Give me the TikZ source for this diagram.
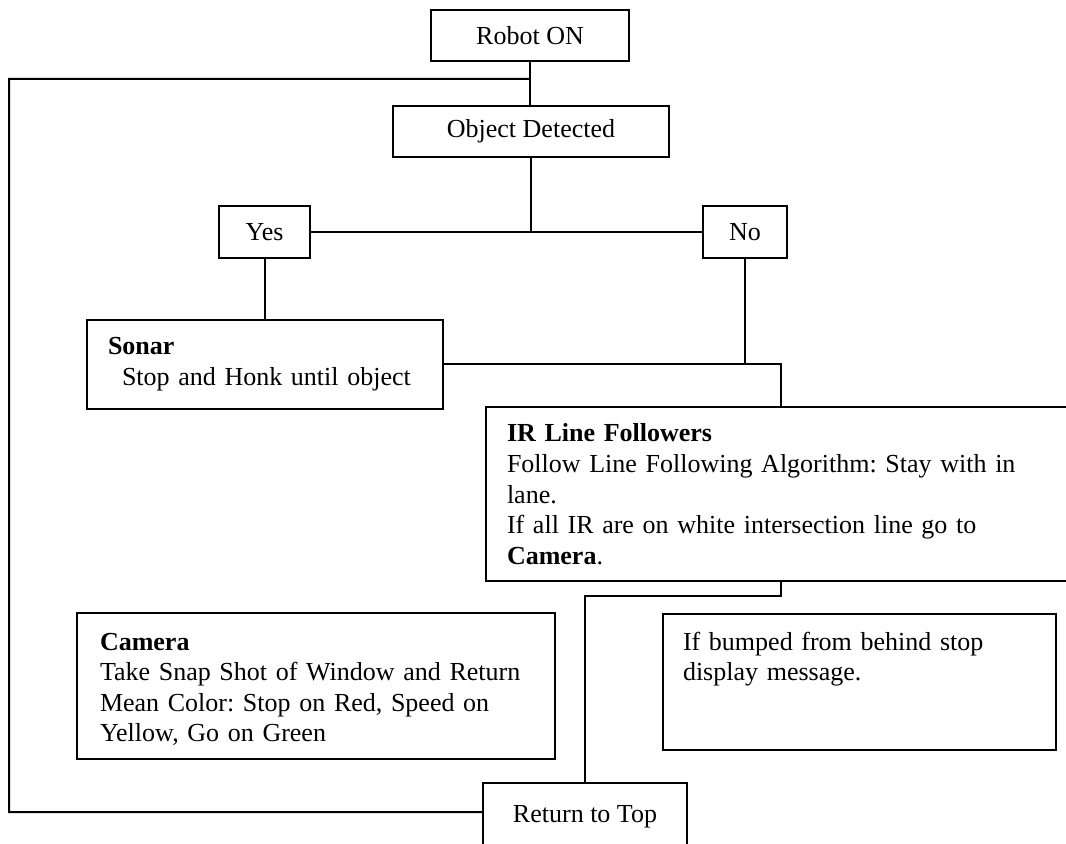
\documentclass[tikz,border=0pt]{standalone}
\usepackage{fontspec}
\setmainfont{Liberation Serif}
\usetikzlibrary{calc}

\begin{document}
\frenchspacing
\begin{tikzpicture}[x=0.5pt,y=-0.5pt,line width=1pt,
    font=\fontsize{13pt}{15.3pt}\selectfont,
    smallbox/.style={draw,outer sep=0pt,minimum height=25.5pt},
    textbox/.style={draw,outer sep=0pt,anchor=north west,align=left,inner ysep=0pt}]
  \useasboundingbox (0,0) rectangle (1066,844);

  \node[smallbox,minimum width=99pt] (on) at (530,35.5) {Robot ON};
  \node[smallbox,minimum width=138pt] (detect) at (531,131.5) {Object Detected};

  \node[smallbox,minimum width=45.5pt,minimum height=26pt] (yes) at (264.5,232) {Yes};
  \node[smallbox,minimum width=42pt,minimum height=26pt] (no) at (745,232) {No};

  \node[textbox,inner xsep=10.5pt,text width=157pt,text height=17.5pt,text depth=27pt]
    (sonar) at (87,320) {\textbf{Sonar}\\\hspace*{7pt}Stop and Honk until object};
  \node[textbox,inner xsep=10.5pt,text width=276pt,text height=17.5pt,text depth=69.5pt]
    (ir) at (486,407) {\textbf{IR Line Followers}\\
      Follow Line Following Algorithm: Stay with in\\
      lane.\\
      If all IR are on white intersection line go to\\
      \textbf{Camera}.};

  \node[textbox,inner xsep=11.5pt,text width=216pt,text height=18.5pt,text depth=54.5pt]
    (camera) at (77,613) {\textbf{Camera}\\
      Take Snap Shot of Window and Return\\
      Mean Color: Stop on Red, Speed on\\
      Yellow, Go on Green};
  \node[textbox,inner xsep=10pt,text width=176.5pt,text height=18pt,text depth=50pt]
    (bump) at (663,614) {If bumped from behind stop\\display message.};

  \node[smallbox,minimum width=102pt,minimum height=34pt] (ret) at (585,817) {Return to Top};

  \coordinate (join) at ($(on.south)!0.4!(on.south |- detect.north)$);

  \draw (on.south) -- (on.south |- detect.north);
  \draw (detect.south) -- (detect.south |- yes.east);
  \draw (yes.east) -- (no.west);
  \draw (yes.south) -- (yes.south |- sonar.north);
  \draw (no.south) -- (no.south |- sonar.east);
  \draw (sonar.east) -| ([xshift=147.5pt]ir.north west);
  \draw ([xshift=147.5pt]ir.south west) -- ++(0,15) -| (ret.north);
  \draw ([yshift=2.5pt]ret.west) -| (9,79) -- (join);
\end{tikzpicture}
\end{document}
